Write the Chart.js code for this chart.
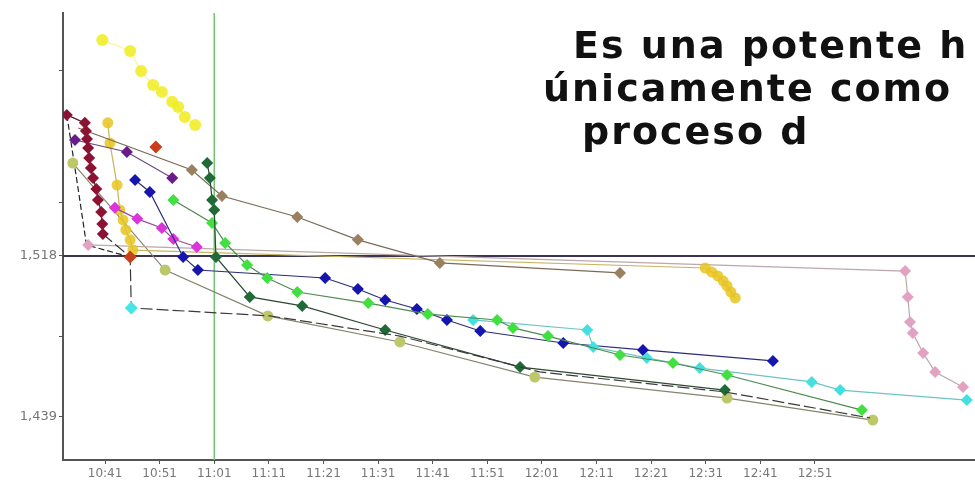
<!DOCTYPE html>
<html>
<head>
<meta charset="utf-8">
<script src="https://cdn.jsdelivr.net/npm/chart.js@4"></script>
<style>
  body { margin: 0; background: #fff; }
  #wrap { position: relative; width: 975px; height: 484px; overflow: hidden; }
  .caption { position: absolute; white-space: nowrap; font-family: "DejaVu Sans", Verdana, sans-serif;
             font-weight: bold; font-size: 38px; letter-spacing: 2px; color: #111; line-height: 1; }
</style>
</head>
<body>
<div id="wrap">
  <canvas id="chart" width="975" height="484"></canvas>
  <div class="caption" style="left:573px; top:26px;">Es una potente h</div>
  <div class="caption" style="left:543px; top:69px;">únicamente como</div>
  <div class="caption" style="left:582px; top:112px;">proceso d</div>
</div>
<script>
// x = minutes after 10:00, y = measured value
const xTicks = [41, 51, 61, 71, 81, 91, 101, 111, 121, 131, 141, 151, 161, 171];
const yTicks = [1439, 1478.3, 1518, 1544, 1608.8];
const yLabels = { 1439: '1,439', 1518: '1,518' };

const refLevel = 1518;
const refTime = 61;

const yellowX = [40.5, 45.6, 47.6, 49.8, 51.4, 53.3, 54.4, 55.6, 57.5];
const yellowY = [1624.0, 1618.6, 1608.8, 1601.9, 1598.5, 1593.6, 1591.1, 1586.2, 1582.3];

const maroonX = [34.0, 37.3, 37.5, 37.7, 37.9, 38.1, 38.4, 38.8, 39.4, 39.7, 40.3, 40.5, 40.6];
const maroonY = [1587.2, 1583.3, 1579.3, 1575.4, 1571.0, 1566.1, 1561.2, 1556.3, 1550.9, 1545.5, 1539.6, 1533.7, 1528.8];

const rustX = [50.3];
const rustY = [1571.5];

const dropX = [40.6, 45.6, 45.8, 71.2, 95.0, 120.6, 154.5, 181.1];
const dropY = [1528.8, 1517.5, 1492.5, 1488.6, 1478.7, 1461.1, 1451.3, 1438.5];

const darkGreenX = [59.7, 60.2, 60.6, 61.0, 61.3, 67.5, 77.1, 92.3, 117.0, 154.5];
const darkGreenY = [1563.6, 1556.3, 1545.5, 1540.6, 1517.5, 1497.9, 1493.5, 1481.7, 1463.5, 1452.2];

const greenX = [53.5, 60.6, 63.0, 67.0, 70.7, 76.2, 89.2, 100.1, 112.8, 115.7, 122.1, 135.3, 145.0, 154.9, 179.6];
const greenY = [1545.5, 1534.2, 1524.4, 1513.6, 1507.2, 1500.3, 1494.9, 1489.5, 1486.6, 1482.7, 1478.7, 1469.4, 1465.5, 1459.6, 1442.4];

const cyanX = [108.4, 129.3, 130.4, 140.2, 149.9, 170.4, 175.6, 198.8];
const cyanY = [1486.6, 1481.7, 1473.3, 1468.0, 1463.0, 1456.2, 1452.2, 1447.3];

const blueX = [46.5, 49.2, 55.3, 58.0, 81.3, 87.3, 92.3, 98.1, 103.6, 109.7, 124.9, 139.5, 163.3];
const blueY = [1555.3, 1549.4, 1517.5, 1511.1, 1507.2, 1501.8, 1496.4, 1492.0, 1486.6, 1481.2, 1475.3, 1471.9, 1466.5];

const magentaX = [42.8, 46.9, 51.4, 53.5, 57.8];
const magentaY = [1541.6, 1536.2, 1531.7, 1526.3, 1522.4];

const purpleX = [35.5, 45.0, 53.3];
const purpleY = [1574.9, 1569.0, 1556.3];

const tanX = [36.1, 56.9, 62.4, 76.2, 87.3, 102.3, 135.3];
const tanY = [1580.8, 1560.2, 1547.4, 1537.1, 1525.9, 1514.6, 1509.7];

const goldX = [41.5, 41.9, 43.2, 43.7, 44.3, 44.8, 45.6, 46.1, 150.9, 152.1, 153.2, 154.2, 154.9, 155.6, 156.4];
const goldY = [1583.3, 1573.4, 1552.8, 1540.6, 1535.7, 1530.8, 1525.9, 1520.9, 1512.1, 1510.1, 1508.2, 1505.7, 1503.3, 1500.3, 1497.4];

const pinkX = [37.9, 187.5, 188.0, 188.4, 188.9, 190.8, 193.0, 198.1];
const pinkY = [1523.4, 1510.6, 1497.9, 1485.6, 1480.2, 1470.4, 1461.1, 1453.7];

const khakiX = [35.1, 52.0, 70.8, 95.0, 119.7, 154.9, 181.6];
const khakiY = [1563.6, 1511.1, 1488.6, 1475.8, 1458.6, 1448.3, 1437.5];

const blackX = [34.0, 36.1, 37.6, 45.6];
const blackY = [1587.2, 1550.4, 1523.4, 1517.5];

const X_MIN = 33.3, X_MAX = 200.3, Y_MIN = 1417.9, Y_MAX = 1637.2;

function pts(xs, ys) {
    return xs.map((x, i) => ({ x: x, y: ys[i] }));
}

function series(xs, ys, marker, line, opts) {
    return Object.assign({
        data: pts(xs, ys),
        showLine: true,
        borderColor: line,
        borderWidth: 1.2,
        backgroundColor: marker,
        pointBackgroundColor: marker,
        pointBorderColor: marker,
        pointBorderWidth: 0,
        pointStyle: 'rectRot',
        pointRadius: 6,
        tension: 0
    }, opts || {});
}

// drop series: rust marker at the bend, cyan marker at the bottom, rest unmarked
const dropColors = dropX.map((_, i) => i === 1 ? '#c8401a' : (i === 2 ? '#44e6e6' : '#333'));
const dropRadius = dropX.map((_, i) => (i === 1 || i === 2) ? 6.5 : 0);

const datasets = [
    series(yellowX, yellowY, 'rgba(240,236,30,0.85)', 'rgba(240,236,60,0.5)', { pointStyle: 'circle', pointRadius: 6 }),
    series(maroonX, maroonY, '#8b1232', '#5a1424'),
    series(rustX, rustY, '#cc3c18', '#cc3c18', { pointRadius: 6.5 }),
    series(dropX, dropY, dropColors, '#3a3a3a', { pointRadius: dropRadius, borderDash: [12, 4] }),
    series(darkGreenX, darkGreenY, '#1f6a36', '#2c4832'),
    series(greenX, greenY, '#3fe03f', '#4e8a52'),
    series(cyanX, cyanY, '#44e0e0', '#6cc4c4'),
    series(blueX, blueY, '#1616ae', '#2c2c78'),
    series(magentaX, magentaY, '#dd33dd', '#9a4a9a'),
    series(purpleX, purpleY, '#6a1a8a', '#6a4a7a'),
    series(tanX, tanY, '#9a8060', '#7a6a58', { pointRadius: tanX.map((_, i) => i === 0 ? 0 : 6) }),
    series(goldX, goldY, 'rgba(232,196,30,0.85)', '#c8b460', { pointStyle: 'circle', pointRadius: 5.5 }),
    series(pinkX, pinkY, '#e2a2c2', '#bca8a8'),
    series(khakiX, khakiY, '#bcc86a', '#84846e', { pointStyle: 'circle', pointRadius: 5.5 }),
    series(blackX, blackY, '#222', '#222', { pointRadius: 0, borderDash: [6, 3] }),
    // reference lines
    {
        data: [{ x: X_MIN, y: refLevel }, { x: X_MAX, y: refLevel }],
        showLine: true, borderColor: '#3c3252', borderWidth: 2, pointRadius: 0, order: 5
    },
    {
        data: [{ x: refTime, y: Y_MIN }, { x: refTime, y: Y_MAX }],
        showLine: true, borderColor: '#72c472', borderWidth: 1.5, pointRadius: 0, order: 5
    }
];

function timeLabel(m) {
    const h = 10 + Math.floor(m / 60);
    const mm = m % 60;
    return h + ':' + (mm < 10 ? '0' + mm : mm);
}

new Chart(document.getElementById('chart').getContext('2d'), {
    type: 'scatter',
    data: { datasets: datasets },
    options: {
        responsive: false,
        animation: false,
        events: [],
        layout: { autoPadding: false, padding: { top: 13, right: 0, left: 0, bottom: 0 } },
        plugins: {
            legend: { display: false },
            tooltip: { enabled: false }
        },
        scales: {
            x: {
                type: 'linear',
                min: X_MIN,
                max: X_MAX,
                afterBuildTicks: scale => { scale.ticks = xTicks.map(v => ({ value: v })); },
                afterFit: scale => { scale.height = 24; },
                grid: { drawOnChartArea: false, drawTicks: true, tickLength: 4, color: '#555' },
                border: { display: true, color: '#555', width: 2 },
                ticks: {
                    autoSkip: false,
                    maxRotation: 0,
                    padding: 3,
                    color: '#777',
                    font: { family: 'DejaVu Sans', size: 12 },
                    callback: v => timeLabel(v)
                }
            },
            y: {
                type: 'linear',
                min: Y_MIN,
                max: Y_MAX,
                afterBuildTicks: scale => { scale.ticks = yTicks.map(v => ({ value: v })); },
                afterFit: scale => { scale.width = 63; },
                grid: { drawOnChartArea: false, drawTicks: true, tickLength: 4, color: '#555' },
                border: { display: true, color: '#555', width: 2 },
                ticks: {
                    autoSkip: false,
                    padding: 2,
                    color: '#777',
                    font: { family: 'DejaVu Sans', size: 13 },
                    callback: v => yLabels[v] || ''
                }
            }
        }
    }
});
</script>
</body>
</html>
